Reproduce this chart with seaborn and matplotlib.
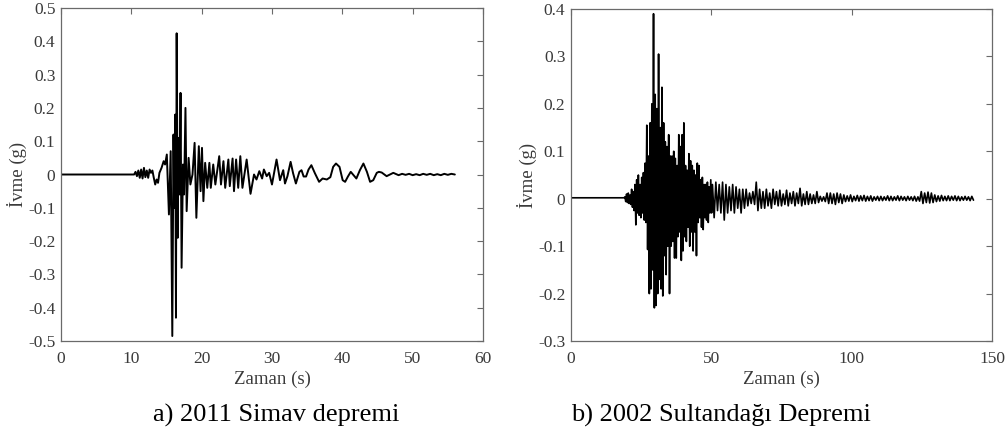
import numpy as np
import pandas as pd
import matplotlib
matplotlib.use("Agg")
import matplotlib.pyplot as plt
import seaborn as sns

# --- Data: a) 2011 Simav (peak times in s, acceleration in g) ---
SIMAV_T = [0.0, 10.4, 10.6, 10.8, 11.0, 11.2, 11.4, 11.6, 11.8, 12.0, 12.2, 12.4,
           12.6, 12.8, 13.0, 13.2, 13.4, 13.6, 13.8, 14.0, 14.3, 14.6, 14.8, 15.05,
           15.35, 15.6, 15.83, 16.0, 16.1, 16.25, 16.35, 16.45, 16.6, 16.7, 16.87,
           17.0, 17.15, 17.35, 17.5, 17.7, 17.87, 18.15, 18.4, 18.7, 19.0, 19.25,
           19.6, 19.85, 20.05, 20.25, 20.5, 20.8, 21.1, 21.3, 21.65, 21.95, 22.5,
           22.75, 23.1, 23.35, 23.8, 24.0, 24.4, 24.6, 24.9, 25.2, 25.5, 25.8, 26.4,
           26.95, 27.45, 27.8, 28.2, 28.6, 28.85, 29.25, 29.6, 30.0, 30.65,
           31.14, 31.6, 31.85, 32.2, 32.65, 33.0, 33.4, 33.9, 34.2, 34.5,
           34.85, 35.2, 35.6, 36.1, 36.7, 37.2, 37.8, 38.3, 38.7, 39.1,
           39.6, 40.05, 40.4, 40.8, 41.2, 41.6, 42.0, 42.5, 43.0, 43.5,
           43.95, 44.4, 44.9, 45.2, 45.6, 46.3, 47.25, 48.0,
           48.5, 49.0, 49.5, 50.0, 50.5, 51.0, 51.5, 52.0, 52.5, 53.0, 53.5, 54.0,
           54.5, 55.0, 55.5, 56.0]
SIMAV_A = [0.0, 0.0, 0.008, -0.005, 0.012, -0.01, 0.015, -0.012, 0.02, -0.008, 0.012, -0.01,
           0.015, 0.005, 0.012, -0.01, -0.03, -0.015, -0.025, 0.005, 0.02, 0.04, 0.03, 0.06,
           -0.12, 0.07, -0.485, 0.12, -0.1, 0.18, -0.43, 0.424, -0.19, 0.11, -0.06,
           0.245, -0.28, 0.03, -0.06, 0.2, -0.11, 0.05, -0.03, 0.0, 0.095, -0.13,
           0.085, -0.05, 0.08, -0.08, 0.035, -0.04, 0.035, -0.04, 0.03, -0.03, 0.055,
           -0.03, 0.04, -0.04, 0.045, -0.035, 0.048, -0.05, 0.045, -0.04, 0.055, -0.04, 0.045,
           -0.058, 0.0, -0.015, 0.01, -0.012, 0.015, -0.005, 0.005, -0.03, 0.045,
           -0.017, 0.013, -0.027, -0.005, 0.038, 0.004, -0.027, 0.008, 0.013, -0.006,
           -0.006, 0.015, 0.028, 0.004, -0.022, -0.012, -0.015, -0.008, 0.023, 0.033,
           0.023, -0.017, -0.022, -0.006, 0.008, -0.002, -0.012, 0.013, 0.033, 0.008,
           -0.022, -0.017, 0.005, 0.008, 0.006, -0.005, 0.005, -0.002,
           0.002, -0.001, 0.002, -0.002, 0.001, -0.002, 0.002, -0.001, 0.002, -0.002, 0.001,
           -0.002, 0.002, -0.001, 0.002, 0.0]

# --- Data: b) 2002 Sultandagi (regular samples) ---
SULT_PRE_T = [0.0, 18.9]
SULT_PRE_A = [0.002, 0.002]
SULT_T1, SULT_DT1 = 19.2, 0.3
SULT_A1 = [0.004, -0.006, 0.01, -0.008, 0.012, -0.01, 0.008, -0.012,
           0.02, -0.018, 0.015, -0.025, 0.03, -0.055, 0.04, -0.03,
           0.05, -0.035, 0.03, -0.04, 0.045, -0.03, 0.055, -0.045,
           0.075, -0.05, 0.155, -0.107, 0.09, -0.2, 0.16, -0.19,
           0.2, -0.15, 0.39, -0.23, 0.22, -0.225, 0.19, -0.2,
           0.305, -0.17, 0.15, -0.19, 0.235, -0.205, 0.16, -0.12,
           0.12, -0.16, 0.11, -0.1, 0.135, -0.2, 0.09, -0.1,
           0.09, -0.09, 0.1, -0.125, 0.085, -0.125, 0.07, -0.08,
           0.135, -0.07, 0.11, -0.13, 0.135, -0.11, 0.16, -0.08,
           0.07, -0.09, 0.06, -0.06, 0.095, -0.1, 0.08, -0.07,
           0.07, -0.11, 0.06, -0.07, 0.05, -0.12, 0.075, -0.05,
           0.07, -0.04, 0.04, -0.06, 0.045, -0.065, 0.03, -0.04,
           0.03, -0.045, 0.035, -0.05, 0.025, -0.03, 0.04, -0.03]
SULT_T2, SULT_DT2 = 50.4, 0.6
SULT_A2 = [0.03, -0.04, 0.035, -0.025, 0.03, -0.03, 0.035, -0.045, 0.03, -0.03,
           0.025, -0.025, 0.03, -0.03, 0.025, -0.02, 0.02, -0.03, 0.02, -0.02,
           0.02, -0.015, 0.012, -0.01, 0.015, -0.012, 0.035, -0.025, 0.02, -0.02,
           0.015, -0.02, 0.02, -0.015, 0.012, -0.02, 0.02, -0.012, 0.015, -0.015,
           0.018, -0.015, 0.01, -0.012, 0.018, -0.015, 0.012, -0.01, 0.015, -0.015,
           0.012, -0.01, 0.022, -0.015, 0.01, -0.012, 0.015, -0.012, 0.01, -0.01,
           0.008, -0.01, 0.015, -0.008, 0.005, -0.005, 0.004, -0.006, 0.012, -0.01,
           0.012, -0.01, 0.01, -0.012, 0.012, -0.008, 0.01, -0.01, 0.008, -0.006,
           0.006, -0.005, 0.008, -0.006, 0.005, -0.004, 0.007, -0.005, 0.006, -0.004,
           0.007, -0.005, 0.005, -0.004, 0.006, -0.005, 0.004, -0.003, 0.005, -0.004,
           0.005, -0.004, 0.004, -0.003, 0.006, -0.004, 0.005, -0.004, 0.004, -0.003,
           0.006, -0.004, 0.005, -0.003, 0.004, -0.004, 0.005, -0.003, 0.004, -0.004,
           0.005, -0.005, 0.004, -0.005, 0.015, -0.01, 0.012, -0.008, 0.014, -0.009,
           0.012, -0.008, 0.008, -0.006, 0.006, -0.005, 0.007, -0.004, 0.005, -0.004,
           0.006, -0.004, 0.005, -0.003, 0.006, -0.004, 0.005, -0.004, 0.004, -0.003,
           0.005, -0.003, 0.004, -0.004, 0.005, -0.003]

A_XTICKS = [0, 10, 20, 30, 40, 50, 60]
A_YTICKS = [-0.5, -0.4, -0.3, -0.2, -0.1, 0, 0.1, 0.2, 0.3, 0.4, 0.5]
A_YLABELS = ["-0.5", "-0.4", "-0.3", "-0.2", "-0.1", "0", "0.1", "0.2", "0.3", "0.4", "0.5"]
B_XTICKS = [0, 50, 100, 150]
B_YTICKS = [-0.3, -0.2, -0.1, 0, 0.1, 0.2, 0.3, 0.4]
B_YLABELS = ["-0.3", "-0.2", "-0.1", "0", "0.1", "0.2", "0.3", "0.4"]

sns.set_style("white")
plt.rcParams['font.family'] = ['Liberation Serif', 'DejaVu Serif']

TEXT = "#3a3a3a"
FRAME = "#6a6a6a"

assert len(SIMAV_T) == len(SIMAV_A)
sult_t = (SULT_PRE_T
          + list(SULT_T1 + SULT_DT1 * np.arange(len(SULT_A1)))
          + list(SULT_T2 + SULT_DT2 * np.arange(len(SULT_A2))))
sult_a = SULT_PRE_A + SULT_A1 + SULT_A2

df_a = pd.DataFrame({"t": SIMAV_T, "a": SIMAV_A})
df_b = pd.DataFrame({"t": sult_t, "a": sult_a})

fig = plt.figure(figsize=(10.06, 4.32), dpi=100)
ax1 = fig.add_axes([0.0606, 0.2106, 0.4195, 0.7709])
ax2 = fig.add_axes([0.5676, 0.2106, 0.4185, 0.7685])


def style(ax, df, xlim, ylim, xt, yt, yl, lw):
    sns.lineplot(data=df, x="t", y="a", ax=ax, color="black", linewidth=lw,
                 sort=False, estimator=None)
    ax.set_xlim(*xlim)
    ax.set_ylim(*ylim)
    ax.set_xticks(xt)
    ax.set_xticklabels([str(v) for v in xt])
    ax.set_yticks(yt)
    ax.set_yticklabels(yl)
    ax.tick_params(direction="in", top=True, right=True, length=4, width=0.8,
                   colors=FRAME, labelcolor=TEXT, labelsize=12.5)
    ax.tick_params(axis="x", pad=7)
    ax.tick_params(axis="y", pad=4)
    for s in ax.spines.values():
        s.set_color(FRAME)
        s.set_linewidth(0.9)
    ax.set_xlabel("Zaman (s)", fontsize=13.5, color=TEXT, labelpad=3)
    ax.set_ylabel("İvme (g)", fontsize=13.5, color=TEXT, labelpad=1)


style(ax1, df_a, (0, 60), (-0.5, 0.5), A_XTICKS, A_YTICKS, A_YLABELS, 1.4)
style(ax2, df_b, (0, 150), (-0.3, 0.4), B_XTICKS, B_YTICKS, B_YLABELS, 1.2)

fig.text(0.275, 0.039, "a) 2011 Simav depremi", fontsize=19, color="black",
         ha="center", va="center")
fig.text(0.717, 0.039, "b) 2002 Sultandağı Depremi", fontsize=19, color="black",
         ha="center", va="center")

fig.savefig("out.png", dpi=100)
